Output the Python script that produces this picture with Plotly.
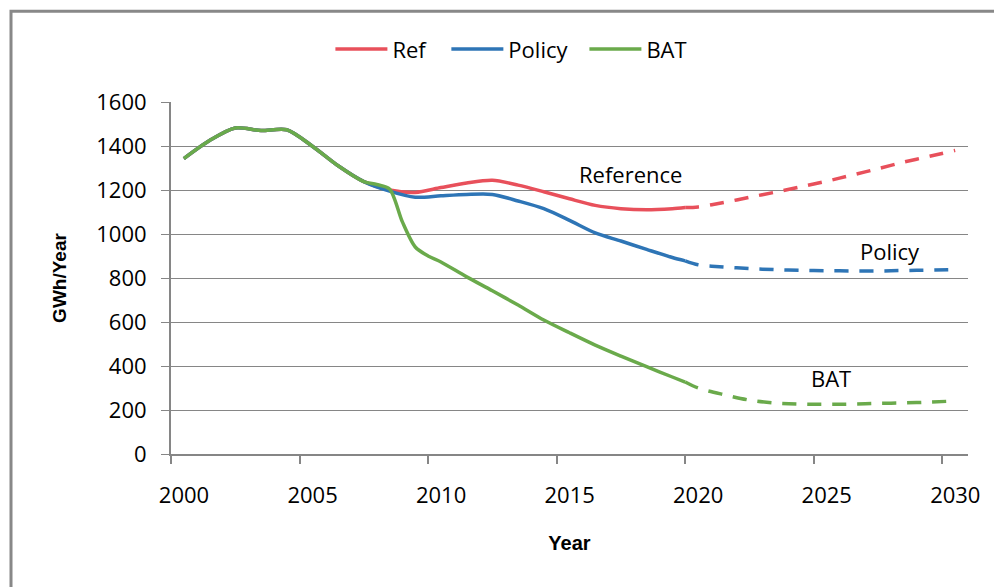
import plotly.graph_objects as go

# ---- data ----
common_years = [2000, 2001, 2002, 2003, 2004, 2005, 2006, 2007]
common_vals = [1343, 1425, 1482, 1470, 1474, 1399, 1310, 1238]

solid_years = [2008, 2009, 2010, 2011, 2012, 2013, 2014, 2015, 2016, 2017, 2018, 2019, 2019.5]
ref_solid = [1200, 1189, 1211, 1232, 1244, 1222, 1192, 1160, 1130, 1115, 1110, 1115, 1120]
policy_solid = [1195, 1167, 1174, 1180, 1180, 1150, 1115, 1062, 1005, 968, 930, 893, 878]

bat_solid_years = [2007.5, 2008, 2008.5, 2009, 2009.5, 2010, 2011, 2012, 2013, 2014,
                   2015, 2016, 2017, 2018, 2019, 2019.5]
bat_solid = [1225, 1205, 1055, 941, 900, 873, 805, 742, 677, 609, 551, 495, 445, 397, 350, 327]

dash_years = [2019.5, 2020, 2021, 2022, 2023, 2024, 2025, 2026, 2027, 2028, 2029, 2030]
ref_dash = [1120, 1123, 1143, 1167, 1190, 1215, 1240, 1268, 1297, 1327, 1353, 1380]
policy_dash = [878, 860, 850, 843, 838, 835, 833, 832, 832, 834, 836, 838]
bat_dash = [327, 300, 270, 245, 232, 227, 226, 227, 230, 232, 236, 241]

tick_years = [2000, 2005, 2010, 2015, 2020, 2025, 2030]
y_ticks = [0, 200, 400, 600, 800, 1000, 1200, 1400, 1600]

series_names = ["Ref", "Policy", "BAT"]
colors = {"Ref": "#E8505B", "Policy": "#2E75B6", "BAT": "#6AAA4B"}

labels = [("Reference", 2017.37, 1271), ("Policy", 2027.45, 921), ("BAT", 2025.19, 344)]

FONT = "Open Sans, Liberation Sans, sans-serif"
BOLD_FONT = "Liberation Sans, Arial, sans-serif"
GRID = "#868686"

fig = go.Figure()

solid = {
    "Ref": (common_years + solid_years, common_vals + ref_solid),
    "Policy": (common_years + solid_years, common_vals + policy_solid),
    "BAT": (common_years + bat_solid_years, common_vals + bat_solid),
}
dashed = {"Ref": ref_dash, "Policy": policy_dash, "BAT": bat_dash}
legend_ids = {"Ref": "legend", "Policy": "legend2", "BAT": "legend3"}
legend_x = {"Ref": 0.200, "Policy": 0.3455, "BAT": 0.5187}

for name in series_names:
    xs, ys = solid[name]
    fig.add_trace(go.Scatter(
        x=xs, y=ys, mode="lines", name=name, legendgroup=name,
        legend=legend_ids[name],
        line=dict(color=colors[name], width=3.5, shape="spline", smoothing=0.8),
    ))
for name in series_names:
    fig.add_trace(go.Scatter(
        x=dash_years, y=dashed[name], mode="lines", name=name, legendgroup=name,
        showlegend=False,
        line=dict(color=colors[name], width=3.5, shape="spline", smoothing=0.8,
                  dash="14px,11px"),
    ))

for text, lx, ly in labels:
    fig.add_annotation(x=lx, y=ly, text=text, showarrow=False,
                       font=dict(family=FONT, size=22, color="#000000"))

legend_style = dict(orientation="h", xanchor="left", y=1.15, yanchor="middle",
                    font=dict(family=FONT, size=22), bgcolor="rgba(0,0,0,0)",
                    itemwidth=52)

fig.update_layout(
    width=994, height=587,
    margin=dict(l=171, r=26, t=102, b=133),
    paper_bgcolor="white", plot_bgcolor="white",
    font=dict(family=FONT, size=22, color="#000000"),
    showlegend=True,
    legend=dict(x=legend_x["Ref"], **legend_style),
    legend2=dict(x=legend_x["Policy"], **legend_style),
    legend3=dict(x=legend_x["BAT"], **legend_style),
    xaxis=dict(
        range=[1999.5, 2030.5],
        tickmode="array",
        tickvals=[t - 0.5 for t in tick_years],
        ticktext=[str(t) for t in tick_years],
        ticklabelshift=13,
        ticklabelstandoff=13,
        ticks="outside", ticklen=8, tickwidth=2, tickcolor=GRID,
        showline=True, linecolor=GRID, linewidth=2,
        showgrid=False, zeroline=False,
        tickfont=dict(family=FONT, size=22),
        title=dict(text="<b>Year</b>", font=dict(family=BOLD_FONT, size=20),
                   standoff=28),
    ),
    yaxis=dict(
        range=[0, 1600],
        tickmode="array", tickvals=y_ticks,
        ticks="outside", ticklen=8, tickwidth=1, tickcolor=GRID,
        ticklabelstandoff=10,
        showline=True, linecolor=GRID, linewidth=2,
        showgrid=True, gridcolor=GRID, gridwidth=1,
        zeroline=False,
        tickfont=dict(family=FONT, size=22),
        title=dict(text="<b>GWh/Year</b>", font=dict(family=BOLD_FONT, size=19),
                   standoff=25),
    ),
)

# outer chart-area frame (only its left and top sides are inside the picture)
fig.add_shape(type="rect", xref="paper", yref="paper",
              x0=(11 - 171) / 797, x1=(1010 - 171) / 797,
              y0=(453.7 - 600) / 352, y1=(453.7 - 11) / 352,
              line=dict(color="#888888", width=3), fillcolor="rgba(0,0,0,0)", layer="below")

fig.write_html("out.html",
               config={"displayModeBar": False},
               post_script="document.body.style.margin='0px';document.body.style.overflow='hidden';")
